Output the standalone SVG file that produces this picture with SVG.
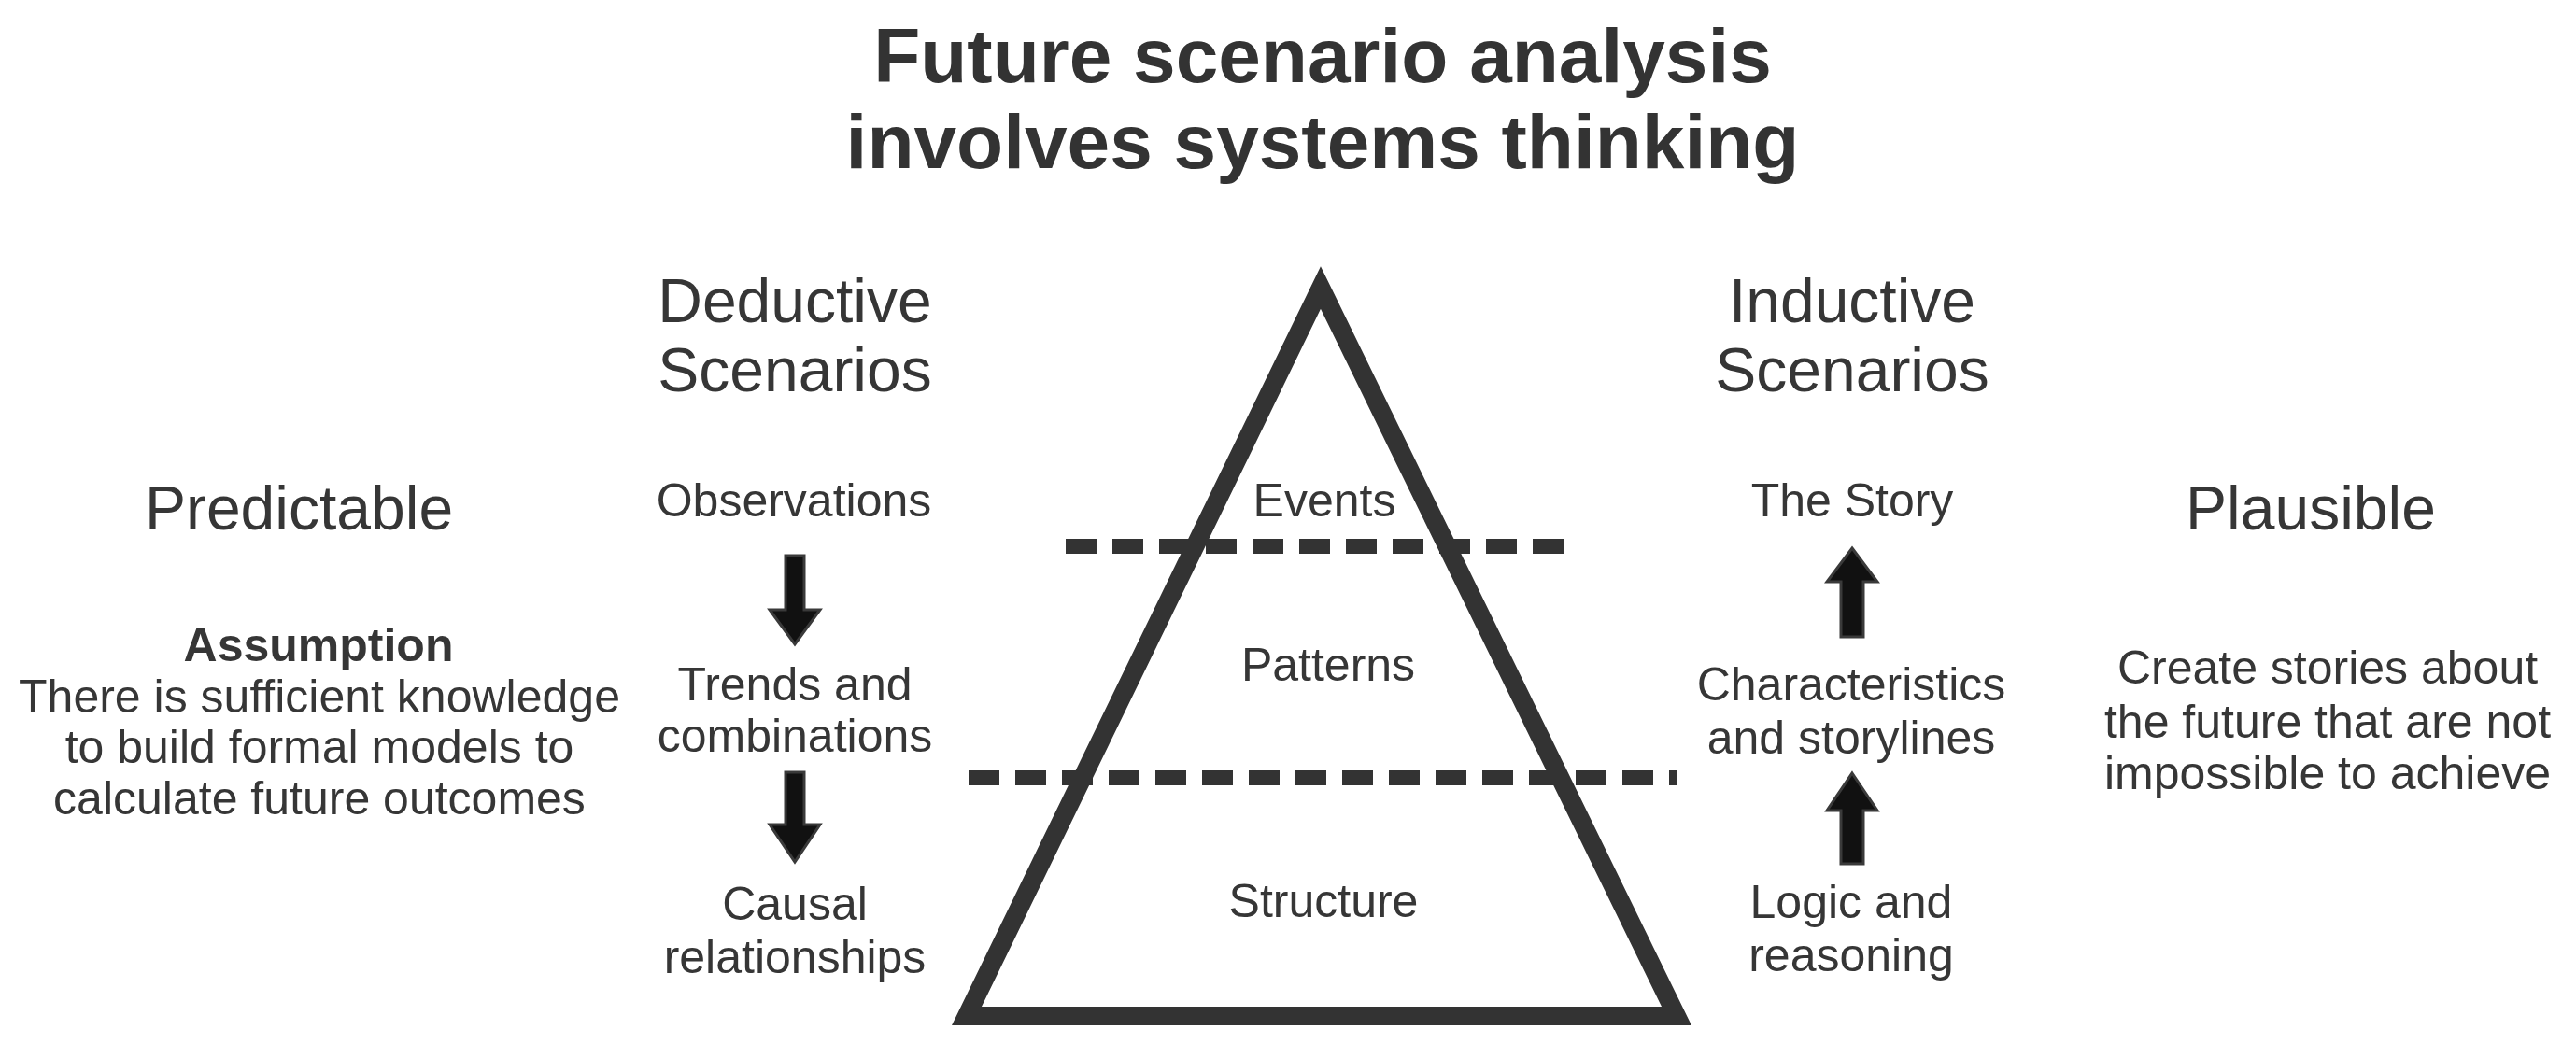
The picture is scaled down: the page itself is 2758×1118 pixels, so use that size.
<svg xmlns="http://www.w3.org/2000/svg" width="2758" height="1118" viewBox="0 0 2758 1118">
<style>
text{font-family:"Liberation Sans",Arial,Helvetica,sans-serif;fill:#363636;text-anchor:middle}
.title{font-size:82px;font-weight:bold;fill:#333}
.head{font-size:66px}
.body{font-size:50px}
.bold{font-weight:bold}
.tri{fill:none;stroke:#333;stroke-width:20;stroke-linejoin:miter;stroke-miterlimit:10}
.dash{stroke:#333;stroke-width:16;stroke-dasharray:33 17}
.arrow{fill:#111;stroke:#3a3a3a;stroke-width:3;stroke-linejoin:miter}
</style>
<rect width="2758" height="1118" fill="#fff"/>
<g id="title">
<text class="title" x="1416" y="88">Future scenario analysis</text>
<text class="title" x="1416" y="180">involves systems thinking</text>
</g>
<g id="pyramid">
<path class="tri" d="M1414 308 L1795 1088 L1035 1088 Z"/>
</g>
<g id="events"><text class="body" x="1418" y="553">Events</text></g>
<g id="patterns"><text class="body" x="1422" y="729">Patterns</text></g>
<g id="structure"><text class="body" x="1417" y="982">Structure</text></g>
<g id="deductive"><text class="head" x="851" y="345">Deductive</text><text class="head" x="851" y="419">Scenarios</text></g>
<g id="inductive"><text class="head" x="1983" y="345">Inductive</text><text class="head" x="1983" y="419">Scenarios</text></g>
<g id="predictable"><text class="head" x="320" y="567">Predictable</text></g>
<g id="plausible"><text class="head" x="2474" y="567">Plausible</text></g>
<g id="assumption">
<text class="body bold" x="341" y="708">Assumption</text>
<text class="body" x="342" y="763">There is sufficient knowledge</text>
<text class="body" x="342" y="817">to build formal models to</text>
<text class="body" x="342" y="872">calculate future outcomes</text>
</g>
<g id="plausible-desc">
<text class="body" x="2492" y="732">Create stories about</text>
<text class="body" x="2492" y="790">the future that are not</text>
<text class="body" x="2492" y="845">impossible to achieve</text>
</g>
<g id="observations"><text class="body" x="850" y="553">Observations</text></g>
<g id="trends"><text class="body" x="851" y="750">Trends and</text><text class="body" x="851" y="805">combinations</text></g>
<g id="causal"><text class="body" x="851" y="985">Causal</text><text class="body" x="851" y="1042">relationships</text></g>
<g id="story"><text class="body" x="1983" y="553">The Story</text></g>
<g id="characteristics"><text class="body" x="1982" y="750">Characteristics</text><text class="body" x="1982" y="807">and storylines</text></g>
<g id="logic"><text class="body" x="1982" y="983">Logic and</text><text class="body" x="1982" y="1040">reasoning</text></g>
<g id="connectors">
<line class="dash" x1="1141" y1="585" x2="1677" y2="585"/>
<line class="dash" x1="1037" y1="833" x2="1796" y2="833"/>
<path class="arrow" d="M841 595 H861 V653 H878 L851 690 L824 653 H841 Z"/>
<path class="arrow" d="M841 827 H861 V883 H878 L851 923 L824 883 H841 Z"/>
<path class="arrow" d="M1983 587 L2010 623 H1995 V682 H1971 V623 H1956 Z"/>
<path class="arrow" d="M1983 828 L2010 868 H1995 V925 H1971 V868 H1956 Z"/>
</g>
</svg>
